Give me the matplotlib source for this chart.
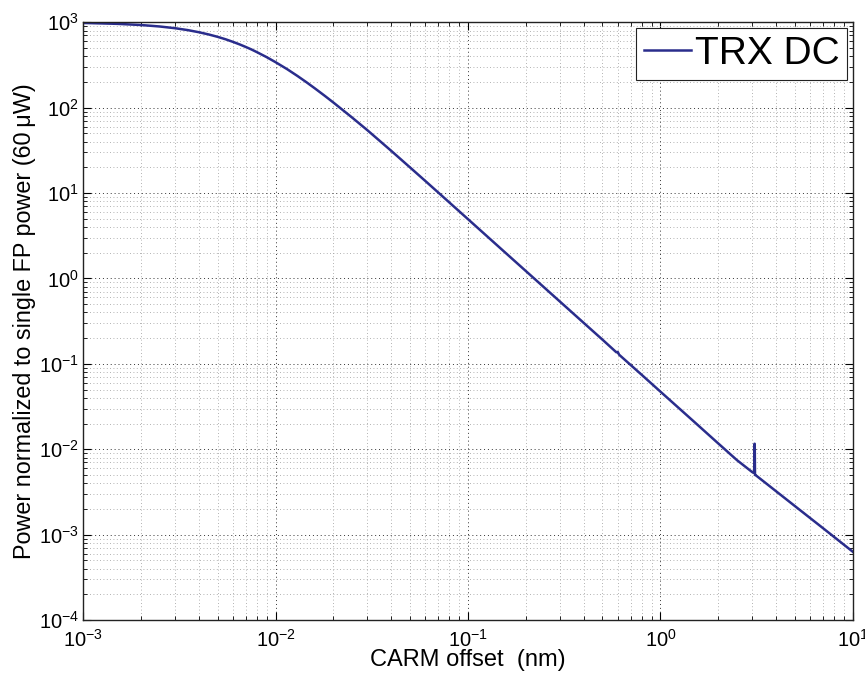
import matplotlib
matplotlib.use("Agg")
import matplotlib.pyplot as plt
from matplotlib.ticker import LogLocator, NullFormatter

plt.rcParams['font.family'] = ['Liberation Sans', 'DejaVu Sans']
plt.rcParams['mathtext.fontset'] = 'custom'
plt.rcParams['mathtext.rm'] = 'Liberation Sans'
plt.rcParams['mathtext.it'] = 'Liberation Sans'

carm_offset_nm = [1e-3, 1.5e-3, 2e-3, 2.5e-3, 3e-3, 3.5e-3, 4e-3, 4.5e-3, 5e-3, 5.5e-3,
                  6e-3, 6.5e-3, 7e-3, 7.5e-3, 8e-3, 9e-3, 1e-2, 1.15e-2, 1.3e-2, 1.45e-2,
                  1.6e-2, 1.8e-2, 2e-2, 2.5e-2, 3e-2, 4e-2, 5e-2, 6e-2, 7e-2, 8.5e-2,
                  0.1, 0.15, 0.2, 0.3, 0.4, 0.5, 0.59, 0.60, 0.61, 0.8,
                  1.0, 1.5, 2.0, 2.5, 3.0, 3.07, 3.08, 3.09, 3.10, 3.13,
                  4.0, 5.0, 7.0, 10.0]
trx_dc = [981, 958, 928, 892, 852, 809, 764, 719, 675, 632,
          590, 551, 514, 480, 447, 390, 341, 282, 235, 198,
          168.4, 137.9, 114.7, 76.6, 54.5, 31.1, 19.96, 13.87, 10.17, 6.87,
          4.95, 2.18, 1.22, 0.538, 0.301, 0.192, 0.1367, 0.138, 0.128, 0.0743,
          0.0473, 0.0209, 0.01167, 0.00745, 0.0054, 0.0053, 0.0116, 0.0116, 0.0050, 0.00496,
          0.00321, 0.00216, 0.00119, 0.00063]

fig = plt.figure(figsize=(8.65, 6.74), dpi=100)
ax = fig.add_axes([0.096, 0.080, 0.890, 0.887])

ax.loglog(carm_offset_nm, trx_dc, color='#2a2d8c', lw=1.8, label='TRX DC',
          solid_joinstyle='round')

ax.set_xlim(1e-3, 1e1)
ax.set_ylim(1e-4, 1e3)

ax.xaxis.set_major_locator(LogLocator(base=10, numticks=20))
ax.yaxis.set_major_locator(LogLocator(base=10, numticks=20))
ax.xaxis.set_minor_locator(LogLocator(base=10, subs=range(2, 10), numticks=50))
ax.yaxis.set_minor_locator(LogLocator(base=10, subs=range(2, 10), numticks=50))
ax.xaxis.set_minor_formatter(NullFormatter())
ax.yaxis.set_minor_formatter(NullFormatter())

ax.grid(True, which='major', linestyle=(0, (1, 3)), color='#333333', lw=0.7)
ax.grid(True, which='minor', linestyle=(0, (1, 3)), color='#999999', lw=0.6)

ax.tick_params(which='both', direction='in', top=True, right=True, labelsize=14.5)
ax.tick_params(axis='x', which='major', pad=6)
ax.tick_params(axis='y', which='major', pad=3)
ax.tick_params(which='major', length=6, width=0.8)
ax.tick_params(which='minor', length=3, width=0.6)
for s in ax.spines.values():
    s.set_linewidth(1.0)
    s.set_color('#222222')

ax.set_xlabel('CARM offset  (nm)', fontsize=17, labelpad=-1)
ax.set_ylabel('Power normalized to single FP power (60\u2009\u03bcW)', fontsize=16.8, labelpad=2)

leg = ax.legend(loc='upper right', fontsize=28, handlelength=1.2, handletextpad=0.1,
                borderpad=0.2, borderaxespad=0.15, fancybox=False, framealpha=1,
                edgecolor='#222222')
leg.get_frame().set_linewidth(0.8)

fig.savefig('out.png', dpi=100)
